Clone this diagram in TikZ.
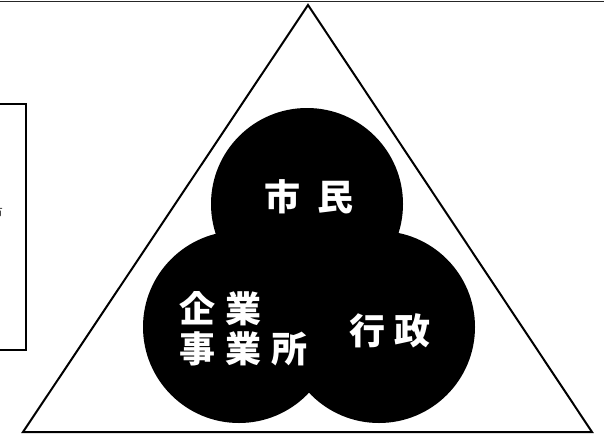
\documentclass[tikz,border=0pt]{standalone}
\usepackage{fontspec}
\newfontfamily\jpfont{Noto Sans CJK JP}
\usetikzlibrary{positioning}

\begin{document}
\begin{tikzpicture}[
  x=1pt,y=-1pt,
  frame/.style={draw=black!85,line width=1.5pt},
  tri/.style={draw=black,line width=2pt,line join=miter},
  notebox/.style={draw=black,line width=1.5pt,minimum width=92pt,
    minimum height=246pt,inner sep=0pt},
  actor/.style={circle,fill=black,draw=none,minimum size=192pt,inner sep=0pt},
  actorlabel/.style={text=white,inner sep=0pt,align=left,
    font=\jpfont\bfseries\fontsize{36}{40}\selectfont}
]
  \useasboundingbox (0,0) rectangle (604,434);
  \draw[frame] (0,1.5) -- (604,1.5);

  % cut-off note box on the left edge
  \node[notebox] (note) at (-20,227) {};
  \node[anchor=east,inner sep=0pt,text=black!80,
    font=\jpfont\fontsize{13}{15}\selectfont] (notetext) at (3,213) {市};

  \draw[tri] (308,5) -- (23,432) -- (592,432) -- cycle;

  \node[actor] (shimin) at (307,204) {};
  \node[actor] (kigyo) at (239,327) {};
  \node[actor] (gyosei) at (379,327) {};

  \node[actorlabel,anchor=west] (shiminlabel) at (264,197)
    {市\hspace{17pt}民};
  \node[actorlabel,anchor=west] (kigyolabel) at (179,329)
    {企\hspace{10pt}業\\事\hspace{10pt}業\hspace{10pt}所};
  \node[actorlabel,anchor=west] (gyoseilabel) at (349,331)
    {行\hspace{9pt}政};
\end{tikzpicture}
\end{document}
